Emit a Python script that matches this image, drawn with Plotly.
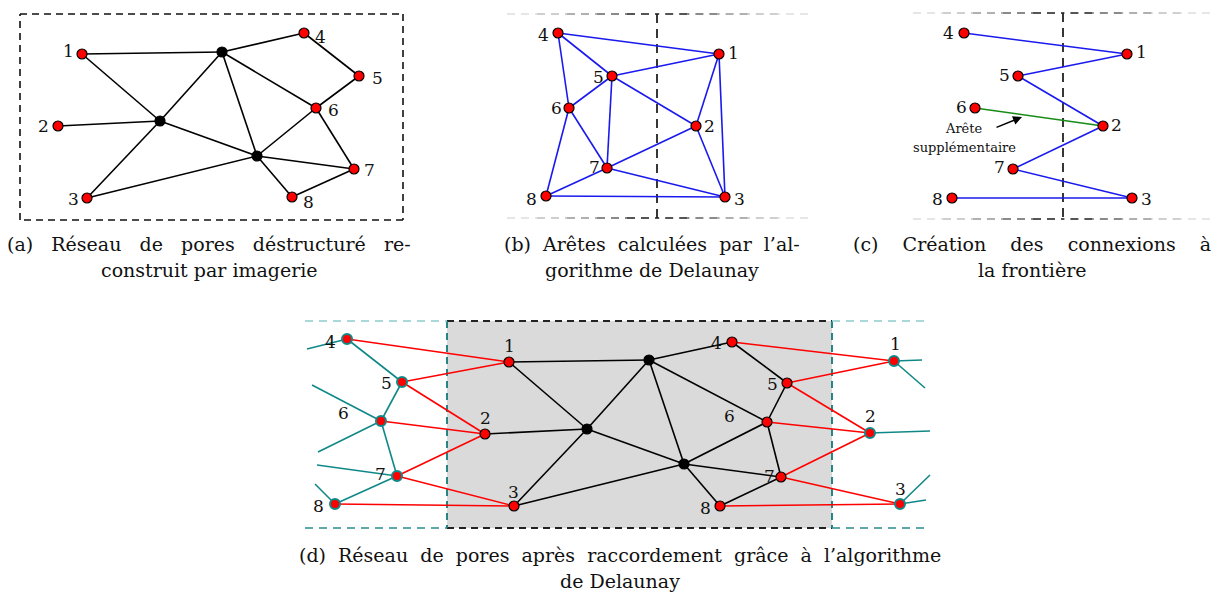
import plotly.graph_objects as go

# ---------------- data ----------------
# Panel (a): destructured network (pixel-like coordinates)
a_nodes = {"1": (82, 54), "2": (58, 126), "3": (87, 198), "4": (304, 33), "5": (359, 76),
           "6": (316, 108), "7": (354, 169), "8": (292, 197),
           "A": (222, 52), "B": (160, 121), "C": (257, 156)}
a_edges = [("1", "A"), ("1", "B"), ("2", "B"), ("3", "B"), ("3", "C"), ("A", "B"), ("A", "4"),
           ("A", "6"), ("A", "C"), ("4", "5"), ("5", "6"), ("6", "C"), ("6", "7"), ("C", "7"),
           ("C", "8"), ("8", "7"), ("B", "C")]
a_labels = {"1": (68, 51), "2": (43, 126), "3": (73, 199), "4": (320, 37), "5": (377, 78),
            "6": (333, 110), "7": (369, 170), "8": (308, 202)}

# Panel (b): Delaunay edges
b_nodes = {"4": (558, 33), "1": (719, 54), "5": (612, 76), "6": (569, 108), "2": (696, 126),
           "7": (607, 168), "8": (546, 196), "3": (725, 197)}
b_edges = [("4", "1"), ("4", "5"), ("4", "6"), ("5", "1"), ("5", "6"), ("5", "7"), ("5", "2"),
           ("1", "2"), ("1", "3"), ("6", "7"), ("6", "8"), ("7", "2"), ("7", "3"), ("7", "8"),
           ("8", "3"), ("2", "3")]
b_labels = {"4": (543, 35), "1": (733, 53), "5": (598, 77), "6": (556, 108), "2": (709, 126),
            "7": (594, 167), "8": (531, 199), "3": (739, 199)}

# Panel (c): boundary connections
c_nodes = {"4": (964, 33), "1": (1127, 54), "5": (1018, 76), "6": (975, 108), "2": (1103, 126),
           "7": (1013, 169), "8": (952, 198), "3": (1132, 198)}
c_edges = [("4", "1"), ("1", "5"), ("5", "2"), ("2", "7"), ("7", "3"), ("8", "3")]
c_extra_edges = [("6", "2")]
c_labels = {"4": (948, 33), "1": (1141, 52), "5": (1004, 75), "6": (961, 107), "2": (1116, 125),
            "7": (999, 167), "8": (937, 199), "3": (1146, 199)}

# Panel (d): reconnected network
d_inner = {"1": (509, 362), "2": (485, 434), "3": (514, 506), "4": (732, 342), "5": (787, 383),
           "6": (767, 422), "7": (781, 477), "8": (720, 506),
           "A": (649, 360), "B": (587, 429), "C": (684, 464)}
d_inner_edges = a_edges
d_left = {"4": (347, 339), "5": (402, 382), "6": (381, 421), "7": (397, 476), "8": (335, 504)}
d_right = {"1": (894, 361), "2": (870, 433), "3": (900, 504)}
d_left_edges = [("4", "5"), ("5", "6"), ("6", "7"), ("7", "8")]
d_left_stubs = [("4", (307, 349)), ("6", (312, 385)), ("6", (318, 452)), ("7", (317, 465)), ("8", (315, 484))]
d_right_stubs = [("1", (922, 360)), ("1", (925, 388)), ("2", (930, 431)), ("3", (930, 475)), ("3", (926, 500))]
d_red_left = [("4", "1"), ("5", "1"), ("5", "2"), ("6", "2"), ("7", "2"), ("7", "3"), ("8", "3")]
d_red_right = [("4", "1"), ("5", "1"), ("5", "2"), ("6", "2"), ("7", "2"), ("7", "3"), ("8", "3")]
d_inner_labels = {"1": (509, 346), "2": (485, 418), "3": (513, 492), "4": (716, 343), "5": (772, 384),
                  "6": (729, 416), "7": (769, 476), "8": (705, 508)}
d_left_labels = {"4": (330, 342), "5": (386, 383), "6": (343, 413), "7": (380, 474), "8": (318, 506)}
d_right_labels = {"1": (895, 344), "2": (870, 416), "3": (900, 489)}

# captions: (words, extra non-breaking spaces per gap, centre x, centre y)
captions = [
    (["(a)", "Réseau", "de", "pores", "déstructuré", "re-"], 2, 209, 244),
    (["construit", "par", "imagerie"], 0, 209, 270),
    (["(b)", "Arêtes", "calculées", "par", "l’al-"], 1, 652, 244),
    (["gorithme", "de", "Delaunay"], 0, 652, 270),
    (["(c)", "Création", "des", "connexions", "à"], 3, 1032, 244),
    (["la", "frontière"], 0, 1032, 270),
    (["(d)", "Réseau", "de", "pores", "après", "raccordement", "grâce", "à", "l’algorithme"], 1, 620, 555),
    (["de", "Delaunay"], 0, 620, 581),
]

FONT = "DejaVu Serif"
BLUE = "#1a1aee"
RED = "#ff0000"
TEAL = "#118888"
BLACK = "#000000"

fig = go.Figure()


def seg_xy(pairs):
    xs, ys = [], []
    for p, q in pairs:
        xs += [p[0], q[0], None]
        ys += [p[1], q[1], None]
    return xs, ys


def add_lines(pairs, color, width=1.6, dash=None):
    xs, ys = seg_xy(pairs)
    fig.add_trace(go.Scatter(x=xs, y=ys, mode="lines", hoverinfo="skip",
                             line=dict(color=color, width=width, dash=dash)))


def add_nodes(pts, fill, edge, size=10, lw=1.2):
    fig.add_trace(go.Scatter(x=[p[0] for p in pts], y=[p[1] for p in pts], mode="markers",
                             hoverinfo="skip",
                             marker=dict(size=size, color=fill, line=dict(color=edge, width=lw))))


def add_text(lbls, size=17):
    for t, (x, y) in lbls.items():
        fig.add_annotation(x=x, y=y, text=t, showarrow=False,
                           font=dict(family=FONT, size=size, color="#111"),
                           xanchor="center", yanchor="middle")


# ---- panel (d) background & frame ----
fig.add_shape(type="rect", x0=447, x1=832, y0=321, y1=528, fillcolor="#dadada",
              line=dict(width=0), layer="below")
add_lines([((447, 321), (832, 321)), ((447, 528), (832, 528))], "#222", 2.2, "7px,5px")
add_lines([((447, 321), (447, 528)), ((832, 321), (832, 528))], "#127a7a", 1.8, "7px,5px")
add_lines([((305, 321), (447, 321)), ((832, 321), (925, 321))], "#8fcaca", 1.4, "8px,6px")
add_lines([((305, 528), (447, 528)), ((832, 528), (925, 528))], "#2a8a8a", 1.6, "8px,6px")

# ---- panel (a) frame ----
add_lines([((20, 14), (403, 14)), ((403, 14), (403, 220)), ((403, 220), (20, 220)),
           ((20, 220), (20, 14))], "#111", 1.6, "7px,5px")

# ---- panels (b),(c) frames (fading horizontal dashes) ----
for (xl, xv, xr, yt, yb) in [(507, 657, 808, 14, 218), (913, 1063, 1210, 13, 219)]:
    n = 5
    shades = ["#e6e6e6", "#cfcfcf", "#b0b0b0", "#8a8a8a", "#555555"]
    for k in range(n):
        l0 = xl + (xv - xl) * k / n
        l1 = xl + (xv - xl) * (k + 1) / n
        r0 = xr - (xr - xv) * k / n
        r1 = xr - (xr - xv) * (k + 1) / n
        add_lines([((l0, yt), (l1, yt)), ((l0, yb), (l1, yb)), ((r0, yt), (r1, yt)),
                   ((r0, yb), (r1, yb))], shades[k], 2, "8px,6px")
    add_lines([((xv, yt), (xv, yb))], "#222", 1.8, "9px,6px")

# ---- panel (a) ----
add_lines([(a_nodes[p], a_nodes[q]) for p, q in a_edges], BLACK, 1.6)
add_nodes([a_nodes[k] for k in "12345678"], RED, BLACK)
add_nodes([a_nodes[k] for k in "ABC"], BLACK, BLACK)
add_text(a_labels)

# ---- panel (b) ----
add_lines([(b_nodes[p], b_nodes[q]) for p, q in b_edges], BLUE, 1.6)
add_nodes(list(b_nodes.values()), RED, BLACK)
add_text(b_labels)

# ---- panel (c) ----
add_lines([(c_nodes[p], c_nodes[q]) for p, q in c_edges], BLUE, 1.6)
add_lines([(c_nodes[p], c_nodes[q]) for p, q in c_extra_edges], "#178a17", 1.6)
add_nodes(list(c_nodes.values()), RED, BLACK)
add_text(c_labels)
fig.add_annotation(x=1022, y=117, ax=995, ay=128, axref="x", ayref="y", xref="x", yref="y",
                   showarrow=True, arrowhead=2, arrowsize=1.2, arrowwidth=1.5, arrowcolor="#000", text="")
fig.add_annotation(x=964, y=128, text="Arête", showarrow=False,
                   font=dict(family=FONT, size=13, color="#111"))
fig.add_annotation(x=964, y=147, text="supplémentaire", showarrow=False,
                   font=dict(family=FONT, size=13, color="#111"))

# ---- panel (d) ----
add_lines([(d_left[p], d_left[q]) for p, q in d_left_edges] +
          [(d_left[p], e) for p, e in d_left_stubs] +
          [(d_right[p], e) for p, e in d_right_stubs], TEAL, 1.6)
add_lines([(d_left[p], d_inner[q]) for p, q in d_red_left] +
          [(d_inner[p], d_right[q]) for p, q in d_red_right], RED, 1.6)
add_lines([(d_inner[p], d_inner[q]) for p, q in d_inner_edges], BLACK, 1.6)
add_nodes([d_inner[k] for k in "12345678"], RED, BLACK)
add_nodes([d_inner[k] for k in "ABC"], BLACK, BLACK)
add_nodes(list(d_left.values()) + list(d_right.values()), RED, TEAL, 10, 2)
add_text(d_inner_labels)
add_text(d_left_labels)
add_text(d_right_labels)

# ---- captions (first lines justified by widening the gaps) ----
for words, extra, x, y in captions:
    gap = " " + "\u00a0" * extra
    fig.add_annotation(x=x, y=y, text=gap.join(words), showarrow=False,
                       xanchor="center", yanchor="middle",
                       font=dict(family=FONT, size=19, color="#111"))

fig.update_layout(
    width=1220, height=594, margin=dict(l=0, r=0, t=0, b=0),
    paper_bgcolor="white", plot_bgcolor="white", showlegend=False,
    xaxis=dict(range=[0, 1220], visible=False, fixedrange=True),
    yaxis=dict(range=[594, 0], visible=False, fixedrange=True),
)
fig.write_html("out.html", config={"displayModeBar": False},
               post_script="document.body.style.margin='0';document.body.style.overflow='hidden';")
